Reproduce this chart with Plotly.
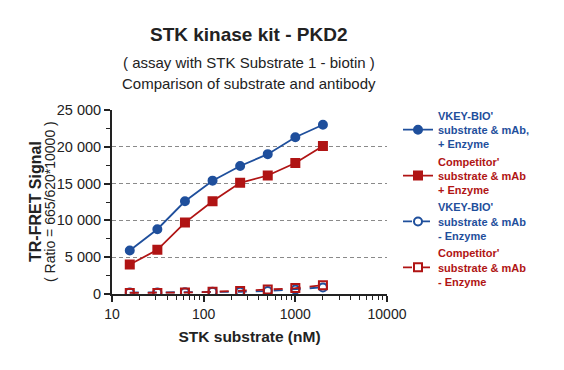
import plotly.graph_objects as go

conc = [15.625, 31.25, 62.5, 125, 250, 500, 1000, 2000]
vkey_plus = [5900, 8800, 12600, 15400, 17400, 19000, 21300, 23000]
comp_plus = [4000, 6000, 9700, 12600, 15100, 16100, 17800, 20100]
vkey_minus = [200, 200, 250, 300, 300, 400, 600, 900]
comp_minus = [150, 150, 200, 300, 400, 600, 800, 1200]
x_ticks = [10, 100, 1000, 10000]
x_ticktext = ["10", "100", "1000", "10000"]

names = [
    "VKEY-BIO'<br>substrate & mAb,<br>+ Enzyme",
    "Competitor'<br>substrate & mAb<br>+ Enzyme",
    "VKEY-BIO'<br>substrate & mAb<br>- Enzyme",
    "Competitor'<br>substrate & mAb<br>- Enzyme",
]
BLUE = "#1f4f9c"
RED = "#b01414"
INK = "#222222"

fig = go.Figure()
series = [
    (vkey_plus, BLUE, "circle", "solid"),
    (comp_plus, RED, "square", "solid"),
    (vkey_minus, BLUE, "circle-open", "dash"),
    (comp_minus, RED, "square-open", "dash"),
]
for (vals, col, sym, dash), nm in zip(series, names):
    fig.add_trace(go.Scatter(
        x=conc, y=vals, mode="lines+markers",
        name=f"<b><span style='color:{col}'>{nm}</span></b>",
        line=dict(color=col, width=1.8, dash=dash),
        marker=dict(symbol=sym, size=8, color=col,
                    line=dict(color=col, width=2)),
    ))

fig.update_layout(
    width=564, height=370,
    margin=dict(l=104, r=185, t=102, b=84, autoexpand=False),
    paper_bgcolor="white", plot_bgcolor="white",
    font=dict(family="Liberation Sans, Arial", color=INK, size=13),
    separators=". ",
    showlegend=True,
    legend=dict(x=1.04, y=1.045, xanchor="left", yanchor="top",
                font=dict(size=11), tracegroupgap=10, itemwidth=30,
                maxheight=360, bgcolor="rgba(0,0,0,0)"),
)
fig.add_annotation(text="<b>STK kinase kit - PKD2</b>", xref="paper", yref="paper",
                   x=0.498, y=1.0, yshift=76, showarrow=False, font=dict(size=19, color=INK),
                   xanchor="center", yanchor="middle")
fig.add_annotation(text="( assay with STK Substrate 1 - biotin )", xref="paper", yref="paper",
                   x=0.498, y=1.0, yshift=48, showarrow=False, font=dict(size=15, color=INK),
                   xanchor="center", yanchor="middle")
fig.add_annotation(text="Comparison of substrate and antibody", xref="paper", yref="paper",
                   x=0.498, y=1.0, yshift=27, showarrow=False, font=dict(size=15, color=INK),
                   xanchor="center", yanchor="middle")
fig.add_annotation(text="<b>TR-FRET Signal</b>", xref="paper", yref="paper",
                   x=0, xshift=-77, y=0.5, showarrow=False, textangle=-90,
                   font=dict(size=16, color=INK), xanchor="center", yanchor="middle")
fig.add_annotation(text="( Ratio = 665/620*10000 )", xref="paper", yref="paper",
                   x=0, xshift=-62, y=0.5, showarrow=False, textangle=-90,
                   font=dict(size=14, color=INK), xanchor="center", yanchor="middle")

fig.update_xaxes(
    type="log", range=[1, 4], tickvals=x_ticks, ticktext=x_ticktext,
    showline=True, linecolor=INK, linewidth=2,
    ticks="outside", ticklen=6, tickwidth=2, tickcolor=INK,
    showgrid=False, zeroline=False, automargin=False,
    tickfont=dict(size=14, color=INK),
    minor=dict(ticks="outside", ticklen=4, tickwidth=1.2, tickcolor=INK, dtick="D1", showgrid=False),
    title=dict(text="<b>STK substrate (nM)</b>", font=dict(size=15.5, color=INK), standoff=10),
)
fig.update_yaxes(
    range=[0, 25000], dtick=5000, tickformat=",d",
    showline=True, linecolor=INK, linewidth=2,
    ticks="outside", ticklen=6, tickwidth=2, tickcolor=INK,
    showgrid=True, gridcolor="#8a8a8a", griddash="4px,3px", gridwidth=1,
    zeroline=False, automargin=False,
    tickfont=dict(size=14.5, color=INK),
    minor=dict(ticks="outside", ticklen=4, tickwidth=1.2, tickcolor=INK, dtick=2500, showgrid=False),
)

fig.write_html("out.html")
